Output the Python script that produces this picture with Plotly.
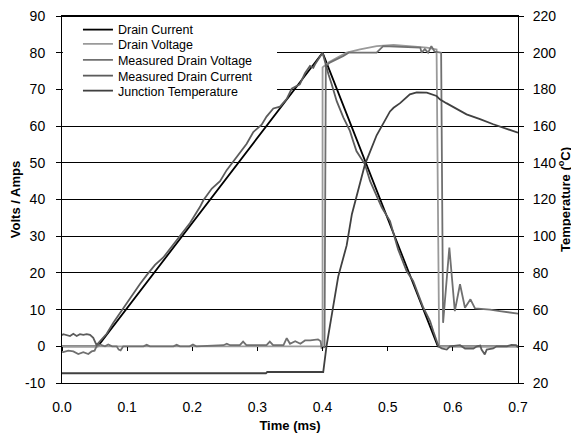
import plotly.graph_objects as go

# ---- data ----
dc_t = [0.0, 0.055, 0.400, 0.577, 0.700]
dc_v = [0.0, 0.0, 80.0, 0.0, 0.0]

dv_t = [0.0, 0.400, 0.400, 0.409, 0.422, 0.437, 0.4575, 0.483, 0.509, 0.534, 0.560, 0.575, 0.579, 0.700]
dv_v = [0.0, 0.0, 76.0, 77.3, 78.6, 80.0, 80.9, 81.8, 82.1, 81.8, 81.4, 80.9, 0.0, 0.0]

mv_t = [0.0, 0.002, 0.0097, 0.0174, 0.025, 0.0327, 0.0404, 0.0455, 0.050, 0.053, 0.058, 0.066,
        0.071, 0.077, 0.084, 0.087, 0.090, 0.094, 0.125, 0.130, 0.135, 0.171, 0.176, 0.181,
        0.196, 0.201, 0.206, 0.248, 0.253, 0.258, 0.273, 0.278, 0.283, 0.314, 0.319, 0.324,
        0.340, 0.345, 0.350, 0.358, 0.366, 0.373, 0.381, 0.393, 0.397, 0.3985, 0.403, 0.405,
        0.411, 0.422, 0.432, 0.440, 0.483, 0.493, 0.550, 0.552, 0.557, 0.562, 0.567, 0.572,
        0.578, 0.582, 0.585, 0.5946, 0.603, 0.611, 0.6186, 0.627, 0.634, 0.657, 0.672, 0.698, 0.700]
mv_v = [-1.5, -1.6, -1.2, -1.4, -2.1, -1.6, -2.1, -1.4, -1.2, 0.0, 0.5, 0.0,
        0.5, 0.0, 0.0, -0.9, -1.1, 0.0, 0.0, 0.4, 0.0, 0.0, 0.4, 0.0,
        0.0, 0.5, 0.0, 0.3, 0.7, 0.3, 0.3, 1.3, 0.3, 0.3, 1.3, 0.3,
        0.3, 2.2, 0.7, 1.4, 0.7, 1.6, 1.6, 1.9, 1.4, -0.4, -0.2, 76.4,
        77.3, 78.2, 79.1, 80.0, 80.0, 81.8, 81.4, 80.0, 81.0, 80.0, 81.8, 80.3,
        80.0, 80.0, 6.4, 26.9, 9.6, 16.9, 10.5, 12.8, 10.3, 10.0, 9.6, 8.9, 8.9]

mc_t = [0.0, 0.002, 0.0123, 0.0174, 0.0225, 0.0276, 0.0327, 0.038, 0.043, 0.048, 0.053, 0.0686,
        0.0788, 0.1018, 0.1197, 0.130, 0.1428, 0.1555, 0.1658, 0.176, 0.1862, 0.1965, 0.2119,
        0.217, 0.230, 0.2426, 0.2528, 0.263, 0.273, 0.2835, 0.2937, 0.3065, 0.314, 0.3244,
        0.3347, 0.345, 0.3526, 0.360, 0.365, 0.373, 0.3807, 0.3858, 0.389, 0.400, 0.4037,
        0.409, 0.414, 0.4217, 0.432, 0.442, 0.447, 0.452, 0.465, 0.473, 0.483, 0.491, 0.5035,
        0.516, 0.529, 0.539, 0.5547, 0.565, 0.570, 0.578, 0.583, 0.5906, 0.5956, 0.611, 0.6187,
        0.6315, 0.637, 0.642, 0.644, 0.649, 0.652, 0.662, 0.667, 0.683, 0.690, 0.697, 0.700]
mc_v = [3.0, 3.3, 2.8, 3.4, 2.8, 3.3, 3.1, 3.3, 3.1, 2.3, 0.3, 3.4,
        6.4, 12.5, 17.0, 19.4, 22.2, 24.2, 26.6, 28.7, 31.4, 33.6, 38.0,
        39.8, 43.0, 45.0, 48.0, 50.4, 52.6, 55.2, 58.4, 60.4, 62.6, 64.8,
        65.3, 67.4, 70.2, 70.8, 71.4, 74.4, 76.4, 75.9, 77.0, 80.0, 77.3,
        74.1, 71.4, 66.8, 62.3, 58.7, 55.9, 53.2, 49.6, 45.0, 41.0, 37.8, 34.1,
        26.4, 20.5, 17.8, 10.5, 6.9, 4.1, 0.0, -0.6, -0.9, 0.0, 0.3, -0.6,
        -0.6, 0.0, 0.2, -0.9, -2.2, -0.9, -0.6, 0.0, 0.0, 0.4, 0.3, -0.3]

tj_t = [0.0, 0.313, 0.315, 0.401, 0.406, 0.424, 0.437, 0.445, 0.465, 0.478, 0.483, 0.5035,
        0.509, 0.519, 0.534, 0.5445, 0.560, 0.575, 0.580, 0.590, 0.611, 0.621, 0.6417, 0.662, 0.700]
tj_T = [25.3, 25.3, 26.0, 26.0, 40.0, 78.0, 95.0, 112.0, 139.0, 150.0, 155.0, 168.0,
        170.0, 172.5, 177.3, 178.4, 178.2, 176.4, 174.6, 172.5, 168.2, 166.4, 163.8, 161.0, 156.4]

x_ticks = [0.0, 0.1, 0.2, 0.3, 0.4, 0.5, 0.6, 0.7]
x_labels = ["0.0", "0.1", "0.2", "0.3", "0.4", "0.5", "0.6", "0.7"]
y_ticks = [-10, 0, 10, 20, 30, 40, 50, 60, 70, 80, 90]
y_labels = ["-10", "0", "10", "20", "30", "40", "50", "60", "70", "80", "90"]
y2_ticks = [20, 40, 60, 80, 100, 120, 140, 160, 180, 200, 220]

series_names = ["Drain Current", "Drain Voltage", "Measured Drain Voltage",
                "Measured Drain Current", "Junction Temperature"]
series_colors = ["#000000", "#9a9a9a", "#707070", "#5c5c5c", "#404040"]

FONT = "Liberation Sans, Arial, sans-serif"

# page has an 8px body margin, so the figure is drawn 8px smaller and offset
W, H = 571, 429

fig = go.Figure()
series = [(dc_t, dc_v, "y"), (dv_t, dv_v, "y"), (mv_t, mv_v, "y"), (mc_t, mc_v, "y"), (tj_t, tj_T, "y2")]
legend_ids = ["legend", "legend2", "legend3", "legend4", "legend5"]
for (xs, ys, ya), nm, col, lg in zip(series, series_names, series_colors, legend_ids):
    fig.add_trace(go.Scatter(x=xs, y=ys, mode="lines", name=nm, yaxis=ya, legend=lg,
                             line=dict(color=col, width=1.8)))
# helper traces on the tick axis at y = 0 and on the top border axis
fig.add_trace(go.Scatter(x=dc_t, y=dc_v, xaxis="x2", mode="lines", showlegend=False,
                         hoverinfo="skip", line=dict(color="rgba(0,0,0,0)", width=0)))
fig.add_trace(go.Scatter(x=dc_t, y=dc_v, xaxis="x3", mode="lines", showlegend=False,
                         hoverinfo="skip", line=dict(color="rgba(0,0,0,0)", width=0)))

# legend entries: one small legend per series, stacked 15 px apart
leg_y = [0.9619, 0.9229, 0.8793, 0.8365, 0.7956]
legend_layout = {}
for lg, yy in zip(legend_ids, leg_y):
    legend_layout[lg] = dict(x=0.035, y=yy, xanchor="left", yanchor="middle",
                             bgcolor="rgba(0,0,0,0)", borderwidth=0,
                             font=dict(size=12.5, family=FONT, color="black"))

fig.update_layout(
    width=W, height=H,
    margin=dict(l=54, r=61, t=8, b=54, autoexpand=False),
    paper_bgcolor="white", plot_bgcolor="white",
    font=dict(family=FONT, size=14, color="black"),
    showlegend=True,
    **legend_layout,
    # white panel behind the legend entries (hides the grid there)
    shapes=[dict(type="rect", xref="paper", yref="paper", x0=0.002, x1=0.4715, y0=0.77, y1=0.99,
                 fillcolor="white", line=dict(width=0), layer="above")],
    xaxis=dict(range=[0, 0.7], tickvals=x_ticks, ticktext=x_labels, automargin=False,
               showgrid=False, zeroline=False, showline=True, mirror=True,
               linecolor="black", linewidth=1,
               ticks="outside", ticklen=11, tickcolor="rgba(0,0,0,0)", ticklabeloverflow="allow",
               title=dict(text="<b>Time (ms)</b>", font=dict(size=13), standoff=7)),
    xaxis2=dict(range=[0, 0.7], tickvals=x_ticks, overlaying="x", anchor="free", position=0.1,
                showticklabels=False, showgrid=False, zeroline=False, showline=False,
                automargin=False, ticks="outside", ticklen=4, tickcolor="black"),
    xaxis3=dict(range=[0, 0.7], overlaying="x", anchor="free", position=1.0, side="top",
                showticklabels=False, showgrid=False, zeroline=False, showline=True,
                linecolor="black", linewidth=1, automargin=False, ticks=""),
    yaxis=dict(range=[-10, 90], tickvals=y_ticks, ticktext=y_labels, automargin=False,
               showgrid=True, gridcolor="black", gridwidth=1, zeroline=False,
               showline=True, linecolor="black", linewidth=1, ticklabeloverflow="allow",
               ticks="outside", ticklen=5, tickcolor="black", ticklabelstandoff=8,
               title=dict(text="<b>Volts / Amps</b>", font=dict(size=13), standoff=1)),
    yaxis2=dict(range=[20, 220], tickvals=y2_ticks, overlaying="y", side="right",
                automargin=False, anchor="x", ticklabeloverflow="allow",
                showgrid=False, zeroline=False, showline=True, linecolor="black", linewidth=1,
                ticks="outside", ticklen=5, tickcolor="black", ticklabelstandoff=6,
                title=dict(text="<b>Temperature (<sup>o</sup>C)</b>", font=dict(size=13), standoff=1)),
)

fig.write_html("out.html")
